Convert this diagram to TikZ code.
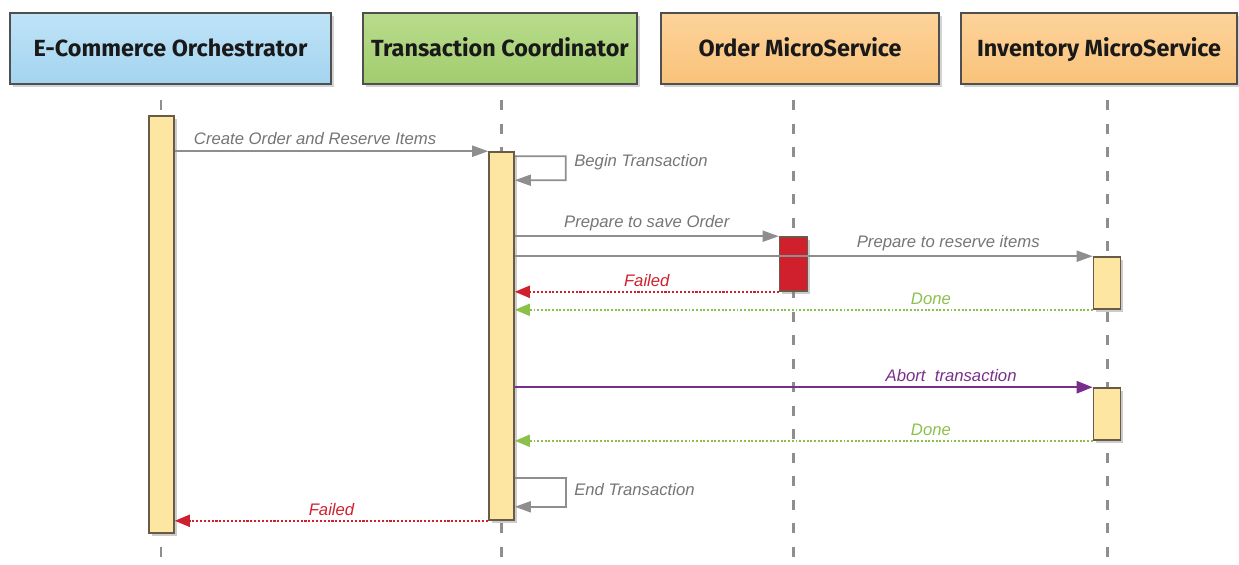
\documentclass[tikz,border=0pt]{standalone}
\usepackage{fontspec}
\setmainfont{Liberation Sans}
\newfontfamily\headfont{Fira Sans}
\usetikzlibrary{arrows.meta, positioning, calc, shadows}

\definecolor{headBorder}{HTML}{4F4F4F}
\definecolor{blueTop}{HTML}{BFE3F7}
\definecolor{blueBot}{HTML}{A3D4F0}
\definecolor{greenTop}{HTML}{B8DC8C}
\definecolor{greenBot}{HTML}{A2CC6E}
\definecolor{orangeTop}{HTML}{FDD39A}
\definecolor{orangeBot}{HTML}{F9C27A}
\definecolor{barFill}{HTML}{FDE6A2}
\definecolor{barBorder}{HTML}{6A5A48}
\definecolor{failRed}{HTML}{D0202E}
\definecolor{msgGray}{HTML}{8E8E8E}
\definecolor{labelGray}{HTML}{757575}
\definecolor{doneGreen}{HTML}{8CC04C}
\definecolor{abortPurple}{HTML}{7A2E8C}

\begin{document}
\begin{tikzpicture}[
    % --- Participant Headers ---
    participant/.style={
        draw=headBorder,
        line width=1pt,
        align=center,
        inner sep=4pt,
        text height=0.9em,
        text depth=0.03em,
        minimum height=1.42cm,
        font=\headfont\bfseries\fontsize{13.3}{16}\selectfont,
        text=black!90,
        drop shadow={shadow xshift=1.5pt, shadow yshift=-1.5pt, opacity=0.35}
    },
    % --- Lifelines ---
    lifeline/.style={
        draw=msgGray,
        line width=1.7pt,
        dash pattern=on 0.2cm off 0.27cm
    },
    % --- Activation Bars ---
    activation/.style={
        draw=barBorder,
        fill=barFill,
        line width=0.9pt,
        inner sep=0pt,
        minimum width=0.5cm,
        drop shadow={shadow xshift=1.5pt, shadow yshift=-1.5pt, opacity=0.4}
    },
    % --- Messages ---
    call arrow/.style={
        -{Triangle[length=0.32cm, width=0.22cm]},
        draw=msgGray,
        line width=1pt
    },
    fail arrow/.style={
        -{Triangle[length=0.3cm, width=0.24cm]},
        draw=failRed,
        densely dotted,
        line width=1.2pt
    },
    done arrow/.style={
        -{Triangle[length=0.3cm, width=0.24cm]},
        draw=doneGreen,
        densely dotted,
        line width=1.1pt
    },
    abort arrow/.style={
        -{Triangle[length=0.32cm, width=0.24cm]},
        draw=abortPurple,
        line width=1.4pt
    },
    % --- Message Labels ---
    msg label/.style={
        font=\itshape\fontsize{9.5}{11}\selectfont,
        text=labelGray,
        inner sep=1.5pt
    }
]

    \useasboundingbox (0,0) rectangle (24.78,-11.28);

    % =========================================
    % 1. PARTICIPANTS
    % =========================================

    \node[participant, top color=blueTop, bottom color=blueBot,
          minimum width=6.42cm] (orchHead) at (3.41,-0.97) {E-Commerce Orchestrator};

    \node[participant, top color=greenTop, bottom color=greenBot,
          minimum width=5.48cm] (coordHead) at (10.00,-0.97) {Transaction Coordinator};

    \node[participant, top color=orangeTop, bottom color=orangeBot,
          minimum width=5.56cm] (orderHead) at (16.00,-0.97) {Order MicroService};

    \node[participant, top color=orangeTop, bottom color=orangeBot,
          minimum width=5.52cm] (invHead) at (21.98,-0.97) {Inventory MicroService};

    % Lifelines
    \coordinate (orchTop)   at (3.22,-2.0);
    \coordinate (orchEnd)   at (3.22,-11.28);
    \coordinate (coordTop)  at (10.02,-2.0);
    \coordinate (coordEnd)  at (10.02,-11.28);
    \coordinate (orderTop)  at (15.86,-2.0);
    \coordinate (orderEnd)  at (15.86,-11.28);
    \coordinate (invTop)    at (22.14,-2.0);
    \coordinate (invEnd)    at (22.14,-11.28);

    \draw[lifeline] (orchTop) -- (orchEnd);
    \draw[lifeline] (coordTop) -- (coordEnd);
    \draw[lifeline] (orderTop) -- (orderEnd);
    \draw[lifeline] (invTop) -- (invEnd);

    % =========================================
    % 2. ACTIVATIONS
    % =========================================

    \node[activation, minimum height=8.34cm] (orchBar) at (3.23,-6.49) {};
    \node[activation, minimum height=7.36cm] (coordBar) at (10.03,-6.72) {};
    \node[activation, fill=failRed, minimum width=0.56cm,
          minimum height=1.08cm] (orderBar) at (15.87,-5.28) {};
    \node[activation, minimum width=0.54cm, minimum height=1.04cm] (invBarA) at (22.14,-5.66) {};
    \node[activation, minimum width=0.54cm, minimum height=1.04cm] (invBarB) at (22.14,-8.28) {};

    % =========================================
    % 3. MESSAGES
    % =========================================

    \draw[call arrow] (orchBar.east |- coordBar.north) -- (coordBar.north west)
        node[msg label, pos=0.05, anchor=south west, yshift=2pt] {Create Order and Reserve Items};

    % Begin Transaction (self call)
    \draw[call arrow] ([yshift=-0.1cm]coordBar.north east) -- ++(1.02,0) -- ++(0,-0.48)
        node[msg label, midway, anchor=west, xshift=0.1cm, yshift=0.12cm] {Begin Transaction}
        -- ([yshift=-0.58cm]coordBar.north east);

    \draw[call arrow] (coordBar.east |- orderBar.north) -- (orderBar.north west)
        node[msg label, midway, above=1pt] {Prepare to save Order};

    \draw[call arrow] (coordBar.east |- invBarA.north) -- (invBarA.north west)
        node[msg label, pos=0.75, above=1pt] {Prepare to reserve items};

    \draw[fail arrow] (orderBar.south west) -- (coordBar.east |- orderBar.south)
        node[msg label, midway, above=1pt, text=failRed] {Failed};

    \draw[done arrow] (invBarA.south west) -- (coordBar.east |- invBarA.south)
        node[msg label, pos=0.28, above=1pt, text=doneGreen] {Done};

    \draw[abort arrow] (coordBar.east |- invBarB.north) -- (invBarB.north west)
        node[msg label, pos=0.755, above=1pt, text=abortPurple] {Abort\ \ transaction};

    \draw[done arrow] (invBarB.south west) -- (coordBar.east |- invBarB.south)
        node[msg label, pos=0.28, above=1pt, text=doneGreen] {Done};

    % End Transaction (self call)
    \draw[call arrow] ([yshift=0.86cm]coordBar.south east) -- ++(1.02,0) -- ++(0,-0.58)
        node[msg label, midway, anchor=west, xshift=0.1cm, yshift=0.05cm] {End Transaction}
        -- ([yshift=0.28cm]coordBar.south east);

    \draw[fail arrow] (coordBar.south west) -- (orchBar.east |- coordBar.south)
        node[msg label, midway, above=1pt, text=failRed] {Failed};

\end{tikzpicture}
\end{document}
